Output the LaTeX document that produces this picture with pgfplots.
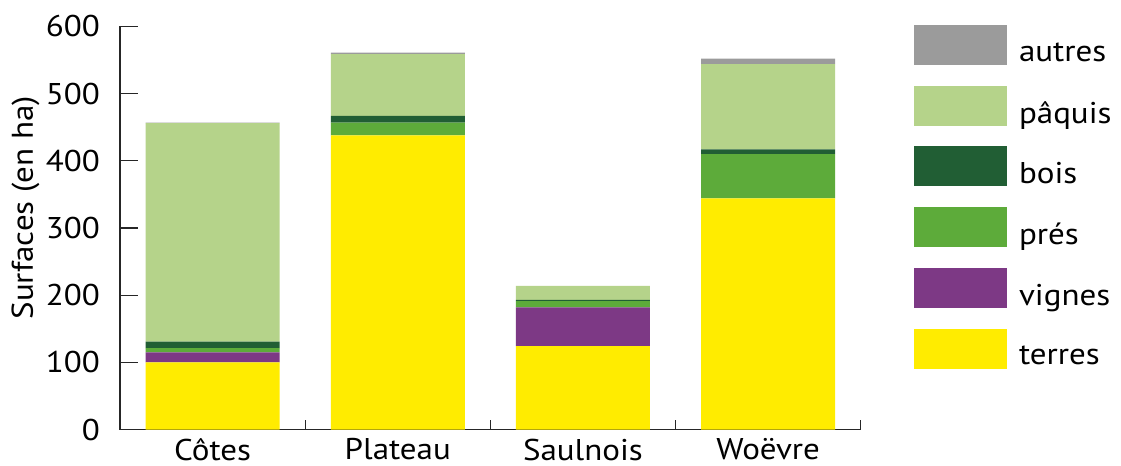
\documentclass[border=0pt]{standalone}
\usepackage{fontspec}
\setmainfont{PT Sans}[FakeStretch=1.1]
\usepackage{pgfplots}
\pgfplotsset{compat=1.18}
\definecolor{cTerres}{RGB}{255,236,0}
\definecolor{cVignes}{RGB}{125,57,133}
\definecolor{cPres}{RGB}{93,171,58}
\definecolor{cBois}{RGB}{33,94,52}
\definecolor{cPaquis}{RGB}{181,211,138}
\definecolor{cAutres}{RGB}{155,155,155}
\newcommand\f{\fontsize{30bp}{35bp}\selectfont}
\begin{document}
\begin{tikzpicture}
\begin{axis}[
  scale only axis, width=740.7bp, height=403bp,
  xmin=-0.5, xmax=3.5, ymin=0, ymax=600,
  ybar stacked, bar width=134bp,
  axis lines=left,
  axis line style={-, line width=1.2bp, black!85},
  tick align=inside,
  tick style={line width=1.2bp, black!85},
  ytick={0,100,...,600},
  xtick={0.5,1.5,2.5,3.5}, xticklabels={},
  extra x ticks={0,1,2,3},
  extra x tick labels={Côtes,Plateau,Saulnois,Woëvre},
  extra x tick style={major tick length=0pt},
  xtick style={/pgfplots/major tick length=10bp},
  ytick style={/pgfplots/major tick length=18bp},
  /pgf/number format/assume math mode=true,
  tick label style={font=\f, inner sep=0pt},
  yticklabel style={xshift=-20bp},
  xticklabel style={yshift=-9bp},
  ylabel={Surfaces (en ha)},
  ylabel style={at={(axis description cs:-0.1276,0.55)}, anchor=center, inner sep=0pt, font=\f},
  legend image code/.code={\path[#1,draw=none] (0bp,-12.5bp) rectangle (93bp,27.5bp);},
  reverse legend,
  legend cell align=left,
  legend style={draw=none, fill=none, at={(axis description cs:1.072,1.0037)}, anchor=north west,
    inner sep=0pt, outer sep=0pt, row sep=20.7bp, column sep=12bp,
    nodes={inner sep=0pt, font=\f}},
]
\addplot[fill=cTerres, draw=none] coordinates {(0,100) (1,438) (2,124) (3,344)};
\addplot[fill=cVignes, draw=none] coordinates {(0,15) (1,0) (2,58) (3,0)};
\addplot[fill=cPres, draw=none] coordinates {(0,6) (1,19) (2,9) (3,66)};
\addplot[fill=cBois, draw=none] coordinates {(0,10) (1,10) (2,2) (3,7)};
\addplot[fill=cPaquis, draw=none] coordinates {(0,325) (1,92) (2,21) (3,127)};
\addplot[fill=cAutres, draw=none] coordinates {(0,1) (1,2) (2,0) (3,8)};
\legend{terres,vignes,prés,bois,pâquis,autres}
\end{axis}
\pgfresetboundingbox
\path[use as bounding box] ([shift={(-120bp,-36.5bp)}]current axis.south west) rectangle ++(1121bp,466bp);
\end{tikzpicture}
\end{document}
